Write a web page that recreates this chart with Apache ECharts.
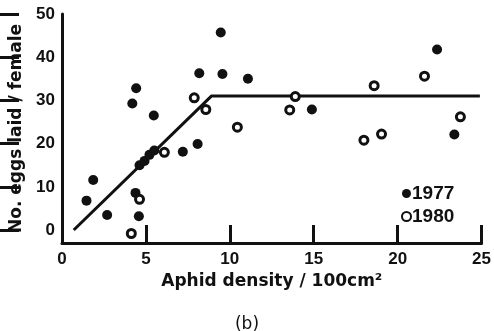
<!DOCTYPE html>
<html>
<head>
<meta charset="utf-8">
<script src="https://cdn.jsdelivr.net/npm/echarts@6/dist/echarts.min.js"></script>
<style>html,body{margin:0;padding:0;background:#fff}#c{width:494px;height:331px}</style>
</head>
<body>
<div id="c"></div>
<script>
const data1977 = [[1.46,6.8],[1.86,11.6],[2.69,3.5],[4.19,29.3],[4.42,32.8],[4.38,8.6],[4.58,3.2],[4.62,15],[4.92,16],[5.21,17.4],[5.5,18.4],[5.47,26.5],[7.2,18.1],[8.08,19.9],[8.18,36.3],[9.46,45.7],[9.56,36.1],[11.08,35.0],[14.89,27.9],[22.35,41.8],[23.38,22.1]];
const data1980 = [[4.13,-0.8],[4.62,7.1],[6.1,18],[7.88,30.6],[8.57,27.9],[10.45,23.8],[13.57,27.8],[13.9,30.9],[17.99,20.8],[18.6,33.4],[19.04,22.2],[21.6,35.6],[23.74,26.2]];
const fitLine = [[0.7,0],[8.9,31],[24.9,31]];
const yTicks = [0,10,20,30,40,50];
const seriesNames = ['1977','1980'];

const font = 'Liberation Sans, Arial, sans-serif';
const wide = 'DejaVu Sans, sans-serif';
const ink = '#111';
const yMin = -3, yMax = 50;
const gridTop = 14, axisBottomPx = 243, chartH = 331, chartW = 494, axisLeftPx = 62;
const zeroPx = axisBottomPx - (0 - yMin) * (axisBottomPx - gridTop) / (yMax - yMin);
const chart = echarts.init(document.getElementById('c'), null, {renderer:'canvas'});
chart.setOption({
  animation:false,
  backgroundColor:'#fff',
  grid:[
    {left:axisLeftPx,right:10,top:gridTop,bottom:chartH-axisBottomPx},
    {left:0,right:chartW-axisLeftPx,top:gridTop,bottom:chartH-zeroPx}
  ],
  title:{text:'(b)',left:'center',top:311,textStyle:{fontFamily:wide,fontSize:17,fontWeight:'normal',color:ink}},
  legend:{
    orient:'vertical',left:396,top:179,itemGap:4,itemWidth:9,itemHeight:9,
    textStyle:{fontFamily:font,fontSize:19,fontWeight:'bold',color:ink,padding:[0,0,0,-4]},
    data:[{name:'1977',icon:'circle'},{name:'1980',icon:'circle'}]
  },
  xAxis:[{
    type:'value',min:0,max:25,interval:5,gridIndex:0,
    name:'Aphid density / 100cm²',nameLocation:'middle',nameGap:27,
    nameTextStyle:{fontFamily:wide,fontSize:17,fontWeight:'bold',color:ink},
    axisLine:{show:true,onZero:false,lineStyle:{color:ink,width:3}},
    axisTick:{show:true,inside:false,length:-18,lineStyle:{color:ink,width:3}},
    axisLabel:{fontFamily:font,fontSize:17,fontWeight:'bold',color:ink,margin:8},
    splitLine:{show:false}
  },{
    type:'value',min:0,max:25,gridIndex:1,show:false
  }],
  yAxis:[{
    type:'value',min:yMin,max:yMax,gridIndex:0,
    name:'No. eggs laid / female',nameLocation:'middle',nameGap:23,
    nameTextStyle:{fontFamily:wide,fontSize:17,fontWeight:'bold',color:ink},
    axisLine:{show:true,onZero:false,lineStyle:{color:ink,width:3}},
    axisTick:{show:false},
    axisLabel:{fontFamily:font,fontSize:17,fontWeight:'bold',color:ink,margin:7,customValues:yTicks},
    splitLine:{show:false}
  },{
    type:'value',min:0,max:50,interval:10,gridIndex:1,position:'right',
    axisLine:{show:false},
    axisTick:{show:true,inside:false,length:19,lineStyle:{color:ink,width:3}},
    axisLabel:{show:false},
    splitLine:{show:false}
  }],
  series:[
    {name:'fit',type:'line',data:fitLine,symbol:'none',lineStyle:{color:ink,width:3},z:1,silent:true},
    {name:seriesNames[0],type:'scatter',data:data1977,symbol:'circle',symbolSize:10,itemStyle:{color:ink,opacity:1},z:3},
    {name:seriesNames[1],type:'scatter',data:data1980,symbol:'circle',symbolSize:8,itemStyle:{color:'#fff',borderColor:ink,borderWidth:3,opacity:1},z:4}
  ]
});
</script>
</body>
</html>
